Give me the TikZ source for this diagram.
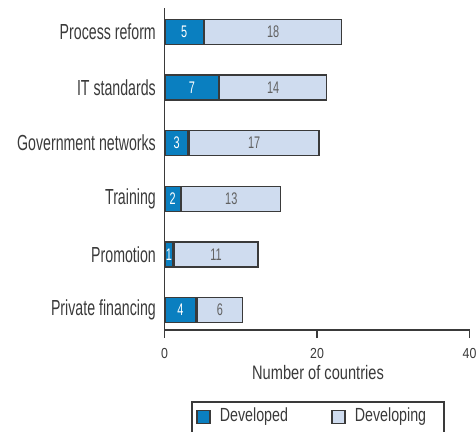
\documentclass[tikz,border=0pt]{standalone}
\usepackage{fontspec}
\setmainfont{Liberation Sans}[FakeStretch=0.65]
\newfontfamily\widefont{Liberation Sans}[FakeStretch=0.75]
\newfontfamily\tickfont{Liberation Sans}[FakeStretch=0.85]
\usetikzlibrary{positioning}

\definecolor{devblue}{RGB}{10,127,192}
\definecolor{inglight}{RGB}{207,220,239}
\definecolor{inkgray}{RGB}{58,58,58}

\newcommand{\cw}{7.625pt}

\tikzset{
  catlabel/.style={anchor=east, inner sep=0pt, text=inkgray, font=\fontsize{21.8}{24}\selectfont},
  devbar/.style={draw=inkgray, line width=1.3pt, fill=devblue, anchor=west, minimum height=25pt, inner sep=0pt, text=white, font=\fontsize{16.8}{18}\selectfont},
  ingbar/.style={draw=inkgray, line width=1.3pt, fill=inglight, anchor=west, minimum height=25pt, inner sep=0pt, text=inkgray!80, font=\fontsize{16.8}{18}\selectfont},
  ticklabel/.style={anchor=north, inner sep=0pt, text=inkgray, font=\tickfont\fontsize{14.5}{16}\selectfont},
  legendbox/.style={draw=inkgray, line width=1.3pt, minimum size=13pt, inner sep=0pt},
  legendtext/.style={anchor=west, inner sep=0pt, text=inkgray, font=\widefont\fontsize{19}{21}\selectfont}
}

\begin{document}
\begin{tikzpicture}[x=1pt, y=-1pt]
		\useasboundingbox (0,0) rectangle (476,431);
		% axes
		\coordinate (top) at (164.5,8);
		\coordinate (origin) at (164.5,330);
		\coordinate (xend) at (469.5,330);
		\draw[inkgray, line width=1.2pt] (top) -- (origin) -- (xend);
		% bars
		\node[catlabel] (lab1) at (156,32) {Process reform};
		\node[devbar, minimum width=5*\cw] (dev1) at (164.5,32) {5};
		\node[ingbar, minimum width=18*\cw] (ing1) at (dev1.east) {18};
		\node[catlabel] (lab2) at (156,87.6) {IT standards};
		\node[devbar, minimum width=7*\cw] (dev2) at (164.5,87.6) {7};
		\node[ingbar, minimum width=14*\cw] (ing2) at (dev2.east) {14};
		\node[catlabel] (lab3) at (156,143.2) {Government networks};
		\node[devbar, minimum width=3*\cw] (dev3) at (164.5,143.2) {3};
		\node[ingbar, minimum width=17*\cw] (ing3) at (dev3.east) {17};
		\node[catlabel] (lab4) at (156,198.8) {Training};
		\node[devbar, minimum width=2*\cw] (dev4) at (164.5,198.8) {2};
		\node[ingbar, minimum width=13*\cw] (ing4) at (dev4.east) {13};
		\node[catlabel] (lab5) at (156,254.4) {Promotion};
		\node[devbar, minimum width=1*\cw] (dev5) at (164.5,254.4) {1};
		\node[ingbar, minimum width=11*\cw] (ing5) at (dev5.east) {11};
		\node[catlabel] (lab6) at (156,310) {Private financing};
		\node[devbar, minimum width=4*\cw] (dev6) at (164.5,310) {4};
		\node[ingbar, minimum width=6*\cw] (ing6) at (dev6.east) {6};
		% ticks
		\coordinate (t0) at (164.5,338);
		\coordinate (t20) at (317,338);
		\coordinate (t40) at (469.5,338);
		\draw[inkgray, line width=1.2pt] (origin) -- (t0) (t20) -- (317,330) (t40) -- (xend);
		\node[ticklabel] (n0) at ([yshift=-10pt]t0) {0};
		\node[ticklabel] (n20) at ([yshift=-10pt]t20) {20};
		\node[ticklabel] (n40) at ([yshift=-10pt]t40) {40};
		\node[ticklabel, font=\widefont\fontsize{19.5}{22}\selectfont] (xtitle) at (318,365) {Number of countries};
		% legend
		\draw[inkgray, line width=1.3pt] (192,445) -- (192,402) -- (444,402) -- (444,445);
		\node[legendbox, fill=devblue] (keydev) at (203.5,417) {};
		\node[legendtext, right=9pt of keydev] (txtdev) {Developed};
		\node[legendbox, fill=inglight] (keying) at (338.5,417) {};
		\node[legendtext, right=9pt of keying] (txting) {Developing};
		\end{tikzpicture}
\end{document}
